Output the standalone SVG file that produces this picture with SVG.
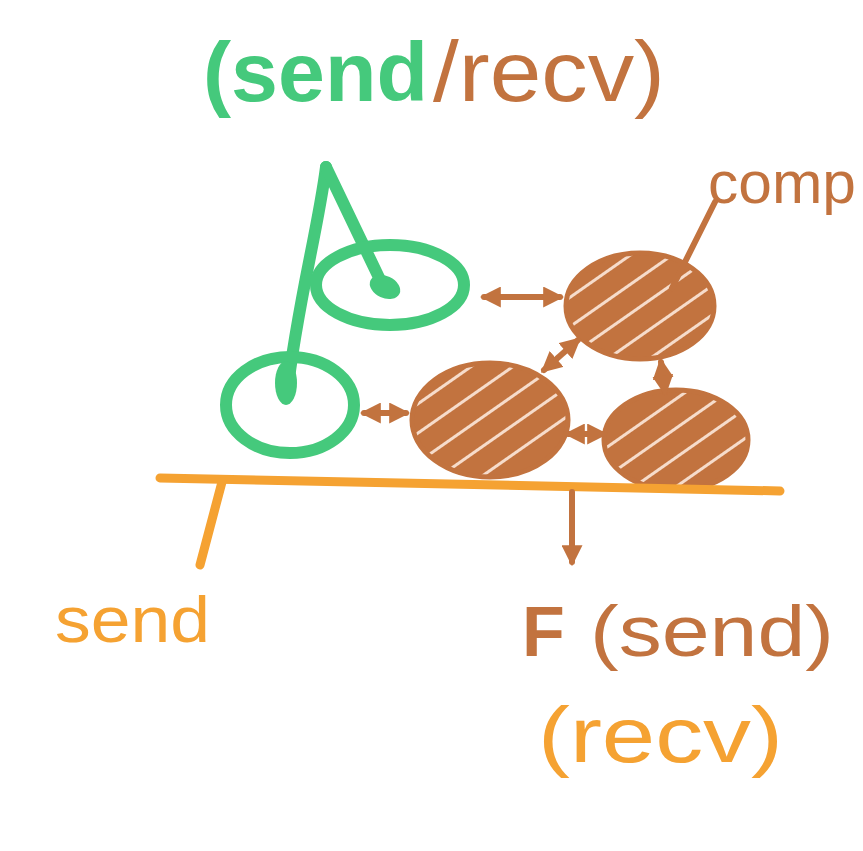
<svg xmlns="http://www.w3.org/2000/svg" width="863" height="851" viewBox="0 0 863 851">
  <defs>
    <style>
      .green { fill: none; stroke: #45c97c; stroke-width: 12; stroke-linecap: round; stroke-linejoin: round; }
      .brown-line { fill: none; stroke: #c2733f; stroke-width: 6; stroke-linecap: round; }
      .orange-line { fill: none; stroke: #f5a232; stroke-width: 9; stroke-linecap: round; }
      .comp { stroke: #c2733f; stroke-width: 5; fill: url(#hatch); }
      .txt { font-family: "Liberation Sans", Arial, sans-serif; }
    </style>
    <pattern id="hatch" patternUnits="userSpaceOnUse" width="24" height="24" patternTransform="rotate(-35)">
      <rect width="24" height="24" fill="#c2733f"/>
      <rect y="17" width="24" height="3" fill="#f6dccb"/>
    </pattern>
    <marker id="ah" viewBox="0 0 10 10" refX="8" refY="5" markerWidth="3.5" markerHeight="3.5" orient="auto-start-reverse">
      <path d="M0,0 L10,5 L0,10 Z" fill="#c2733f"/>
    </marker>
  </defs>
  <rect width="863" height="851" fill="#ffffff"/>

  <g id="title">
    <text class="txt" x="203" y="101" font-size="84" font-weight="bold" fill="#45c97c" textLength="225" lengthAdjust="spacingAndGlyphs">(send</text>
    <text class="txt" x="433" y="101" font-size="86" fill="#c2733f" textLength="232" lengthAdjust="spacingAndGlyphs">/recv)</text>
  </g>

  <g id="thread-tree">
    <path class="green" d="M326,167 C318,230 296,310 287,395"/>
    <path class="green" d="M326,167 L384,288"/>
    <ellipse class="green" cx="390" cy="285" rx="74" ry="40"/>
    <ellipse class="green" cx="290" cy="405" rx="64" ry="48"/>
    <ellipse cx="385" cy="287" rx="16" ry="11" fill="#45c97c" transform="rotate(25 385 287)"/>
    <ellipse cx="286" cy="383" rx="11" ry="22" fill="#45c97c"/>
  </g>

  <g id="comp-top">
    <ellipse class="comp" cx="640" cy="306" rx="74" ry="53"/>
  </g>
  <g id="comp-left">
    <ellipse class="comp" cx="490" cy="420" rx="78" ry="57"/>
  </g>
  <g id="comp-right">
    <ellipse class="comp" cx="676" cy="440" rx="72" ry="50"/>
  </g>

  <g id="comp-label">
    <text class="txt" x="708" y="203" font-size="60" fill="#c2733f" textLength="148" lengthAdjust="spacingAndGlyphs">comp</text>
  </g>

  <g id="send-label">
    <text class="txt" x="55" y="642" font-size="64" fill="#f5a232" textLength="155" lengthAdjust="spacingAndGlyphs">send</text>
  </g>

  <g id="result-label">
    <text class="txt" x="522" y="656" font-size="70" font-weight="bold" fill="#c2733f">F</text>
    <text class="txt" x="590" y="656" font-size="72" fill="#c2733f" textLength="244" lengthAdjust="spacingAndGlyphs">(send)</text>
    <text class="txt" x="538" y="762" font-size="78" fill="#f5a232" textLength="245" lengthAdjust="spacingAndGlyphs">(recv)</text>
  </g>

  <g id="connectors">
    <line class="orange-line" x1="160" y1="478" x2="780" y2="491"/>
    <line class="orange-line" x1="222" y1="482" x2="200" y2="565" stroke-width="6"/>
    <line class="brown-line" x1="715" y1="202" x2="672" y2="288" stroke-width="5"/>
    <line class="brown-line" x1="484" y1="297" x2="560" y2="297" marker-start="url(#ah)" marker-end="url(#ah)"/>
    <line class="brown-line" x1="364" y1="413" x2="406" y2="413" marker-start="url(#ah)" marker-end="url(#ah)"/>
    <line class="brown-line" x1="578" y1="340" x2="544" y2="370" marker-start="url(#ah)" marker-end="url(#ah)"/>
    <line class="brown-line" x1="661" y1="362" x2="665" y2="392" marker-start="url(#ah)" marker-end="url(#ah)"/>
    <line class="brown-line" x1="568" y1="434" x2="604" y2="434" marker-start="url(#ah)" marker-end="url(#ah)"/>
    <line class="brown-line" x1="572" y1="492" x2="572" y2="562" marker-end="url(#ah)"/>
  </g>
</svg>
